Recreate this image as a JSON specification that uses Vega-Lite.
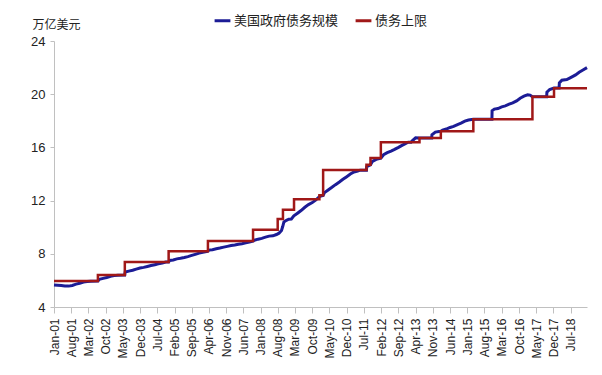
{
  "$schema": "https://vega.github.io/schema/vega-lite/v6.json",
  "width": 533,
  "height": 266,
  "autosize": {"type": "none"},
  "padding": {"left": 54, "top": 41, "right": 15, "bottom": 68},
  "background": "white",
  "config": {
    "view": {"stroke": null},
    "axis": {"labelFont": "Liberation Sans", "labelFontSize": 13, "labelColor": "#222", "domainColor": "#c0c0c0", "tickColor": "#c0c0c0", "grid": false}
  },
  "datasets": {
    "debt": [
      {"date": "2001-01-01", "value": 5.66, "series": "美国政府债务规模"},
      {"date": "2001-02-15", "value": 5.64, "series": "美国政府债务规模"},
      {"date": "2001-04-01", "value": 5.62, "series": "美国政府债务规模"},
      {"date": "2001-05-15", "value": 5.58, "series": "美国政府债务规模"},
      {"date": "2001-07-01", "value": 5.57, "series": "美国政府债务规模"},
      {"date": "2001-08-15", "value": 5.62, "series": "美国政府债务规模"},
      {"date": "2001-10-01", "value": 5.72, "series": "美国政府债务规模"},
      {"date": "2001-11-15", "value": 5.78, "series": "美国政府债务规模"},
      {"date": "2002-01-01", "value": 5.87, "series": "美国政府债务规模"},
      {"date": "2002-02-15", "value": 5.91, "series": "美国政府债务规模"},
      {"date": "2002-04-01", "value": 5.94, "series": "美国政府债务规模"},
      {"date": "2002-06-28", "value": 5.95, "series": "美国政府债务规模"},
      {"date": "2002-07-15", "value": 6.08, "series": "美国政府债务规模"},
      {"date": "2002-09-01", "value": 6.15, "series": "美国政府债务规模"},
      {"date": "2002-10-15", "value": 6.22, "series": "美国政府债务规模"},
      {"date": "2002-12-01", "value": 6.31, "series": "美国政府债务规模"},
      {"date": "2003-01-15", "value": 6.36, "series": "美国政府债务规模"},
      {"date": "2003-03-01", "value": 6.39, "series": "美国政府债务规模"},
      {"date": "2003-05-26", "value": 6.4, "series": "美国政府债务规模"},
      {"date": "2003-06-01", "value": 6.63, "series": "美国政府债务规模"},
      {"date": "2003-07-15", "value": 6.7, "series": "美国政府债务规模"},
      {"date": "2003-09-01", "value": 6.76, "series": "美国政府债务规模"},
      {"date": "2003-10-15", "value": 6.85, "series": "美国政府债务规模"},
      {"date": "2003-12-01", "value": 6.93, "series": "美国政府债务规模"},
      {"date": "2004-01-15", "value": 6.98, "series": "美国政府债务规模"},
      {"date": "2004-03-01", "value": 7.05, "series": "美国政府债务规模"},
      {"date": "2004-04-15", "value": 7.12, "series": "美国政府债务规模"},
      {"date": "2004-06-01", "value": 7.18, "series": "美国政府债务规模"},
      {"date": "2004-07-15", "value": 7.24, "series": "美国政府债务规模"},
      {"date": "2004-09-01", "value": 7.31, "series": "美国政府债务规模"},
      {"date": "2004-10-15", "value": 7.38, "series": "美国政府债务规模"},
      {"date": "2004-11-19", "value": 7.38, "series": "美国政府债务规模"},
      {"date": "2004-12-01", "value": 7.5, "series": "美国政府债务规模"},
      {"date": "2005-01-15", "value": 7.54, "series": "美国政府债务规模"},
      {"date": "2005-03-01", "value": 7.62, "series": "美国政府债务规模"},
      {"date": "2005-04-15", "value": 7.66, "series": "美国政府债务规模"},
      {"date": "2005-06-01", "value": 7.72, "series": "美国政府债务规模"},
      {"date": "2005-07-15", "value": 7.79, "series": "美国政府债务规模"},
      {"date": "2005-09-01", "value": 7.88, "series": "美国政府债务规模"},
      {"date": "2005-10-15", "value": 7.96, "series": "美国政府债务规模"},
      {"date": "2005-12-01", "value": 8.05, "series": "美国政府债务规模"},
      {"date": "2006-01-15", "value": 8.12, "series": "美国政府债务规模"},
      {"date": "2006-03-15", "value": 8.18, "series": "美国政府债务规模"},
      {"date": "2006-04-01", "value": 8.28, "series": "美国政府债务规模"},
      {"date": "2006-05-15", "value": 8.31, "series": "美国政府债务规模"},
      {"date": "2006-07-01", "value": 8.38, "series": "美国政府债务规模"},
      {"date": "2006-08-15", "value": 8.43, "series": "美国政府债务规模"},
      {"date": "2006-10-01", "value": 8.5, "series": "美国政府债务规模"},
      {"date": "2006-11-15", "value": 8.56, "series": "美国政府债务规模"},
      {"date": "2007-01-01", "value": 8.62, "series": "美国政府债务规模"},
      {"date": "2007-02-15", "value": 8.66, "series": "美国政府债务规模"},
      {"date": "2007-04-01", "value": 8.72, "series": "美国政府债务规模"},
      {"date": "2007-05-15", "value": 8.76, "series": "美国政府债务规模"},
      {"date": "2007-07-01", "value": 8.82, "series": "美国政府债务规模"},
      {"date": "2007-08-15", "value": 8.88, "series": "美国政府债务规模"},
      {"date": "2007-09-28", "value": 8.95, "series": "美国政府债务规模"},
      {"date": "2007-10-15", "value": 9.02, "series": "美国政府债务规模"},
      {"date": "2007-12-01", "value": 9.1, "series": "美国政府债务规模"},
      {"date": "2008-01-15", "value": 9.16, "series": "美国政府债务规模"},
      {"date": "2008-03-01", "value": 9.25, "series": "美国政府债务规模"},
      {"date": "2008-04-15", "value": 9.33, "series": "美国政府债务规模"},
      {"date": "2008-06-01", "value": 9.35, "series": "美国政府债务规模"},
      {"date": "2008-07-15", "value": 9.45, "series": "美国政府债务规模"},
      {"date": "2008-08-15", "value": 9.55, "series": "美国政府债务规模"},
      {"date": "2008-09-15", "value": 9.75, "series": "美国政府债务规模"},
      {"date": "2008-09-30", "value": 10.05, "series": "美国政府债务规模"},
      {"date": "2008-10-15", "value": 10.4, "series": "美国政府债务规模"},
      {"date": "2008-11-15", "value": 10.52, "series": "美国政府债务规模"},
      {"date": "2008-12-15", "value": 10.6, "series": "美国政府债务规模"},
      {"date": "2009-01-15", "value": 10.62, "series": "美国政府债务规模"},
      {"date": "2009-02-15", "value": 10.85, "series": "美国政府债务规模"},
      {"date": "2009-04-01", "value": 11.05, "series": "美国政府债务规模"},
      {"date": "2009-05-15", "value": 11.25, "series": "美国政府债务规模"},
      {"date": "2009-07-01", "value": 11.5, "series": "美国政府债务规模"},
      {"date": "2009-08-15", "value": 11.7, "series": "美国政府债务规模"},
      {"date": "2009-10-01", "value": 11.85, "series": "美国政府债务规模"},
      {"date": "2009-11-15", "value": 12.05, "series": "美国政府债务规模"},
      {"date": "2009-12-28", "value": 12.29, "series": "美国政府债务规模"},
      {"date": "2010-01-15", "value": 12.35, "series": "美国政府债务规模"},
      {"date": "2010-02-12", "value": 12.39, "series": "美国政府债务规模"},
      {"date": "2010-03-01", "value": 12.6, "series": "美国政府债务规模"},
      {"date": "2010-04-15", "value": 12.8, "series": "美国政府债务规模"},
      {"date": "2010-06-01", "value": 13.0, "series": "美国政府债务规模"},
      {"date": "2010-07-15", "value": 13.2, "series": "美国政府债务规模"},
      {"date": "2010-09-01", "value": 13.4, "series": "美国政府债务规模"},
      {"date": "2010-10-15", "value": 13.6, "series": "美国政府债务规模"},
      {"date": "2010-12-01", "value": 13.8, "series": "美国政府债务规模"},
      {"date": "2011-01-15", "value": 14.0, "series": "美国政府债务规模"},
      {"date": "2011-03-01", "value": 14.15, "series": "美国政府债务规模"},
      {"date": "2011-04-15", "value": 14.22, "series": "美国政府债务规模"},
      {"date": "2011-05-16", "value": 14.29, "series": "美国政府债务规模"},
      {"date": "2011-08-02", "value": 14.29, "series": "美国政府债务规模"},
      {"date": "2011-08-05", "value": 14.55, "series": "美国政府债务规模"},
      {"date": "2011-09-21", "value": 14.69, "series": "美国政府债务规模"},
      {"date": "2011-10-15", "value": 14.95, "series": "美国政府债务规模"},
      {"date": "2011-12-01", "value": 15.1, "series": "美国政府债务规模"},
      {"date": "2012-01-27", "value": 15.19, "series": "美国政府债务规模"},
      {"date": "2012-03-01", "value": 15.45, "series": "美国政府债务规模"},
      {"date": "2012-04-15", "value": 15.6, "series": "美国政府债务规模"},
      {"date": "2012-06-01", "value": 15.72, "series": "美国政府债务规模"},
      {"date": "2012-07-15", "value": 15.85, "series": "美国政府债务规模"},
      {"date": "2012-09-01", "value": 16.0, "series": "美国政府债务规模"},
      {"date": "2012-10-15", "value": 16.15, "series": "美国政府债务规模"},
      {"date": "2012-12-01", "value": 16.3, "series": "美国政府债务规模"},
      {"date": "2012-12-31", "value": 16.39, "series": "美国政府债务规模"},
      {"date": "2013-02-04", "value": 16.39, "series": "美国政府债务规模"},
      {"date": "2013-02-15", "value": 16.47, "series": "美国政府债务规模"},
      {"date": "2013-04-01", "value": 16.72, "series": "美国政府债务规模"},
      {"date": "2013-05-19", "value": 16.7, "series": "美国政府债务规模"},
      {"date": "2013-10-17", "value": 16.7, "series": "美国政府债务规模"},
      {"date": "2013-10-20", "value": 16.95, "series": "美国政府债务规模"},
      {"date": "2013-12-01", "value": 17.15, "series": "美国政府债务规模"},
      {"date": "2014-01-15", "value": 17.2, "series": "美国政府债务规模"},
      {"date": "2014-02-07", "value": 17.21, "series": "美国政府债务规模"},
      {"date": "2014-03-01", "value": 17.3, "series": "美国政府债务规模"},
      {"date": "2014-04-15", "value": 17.38, "series": "美国政府债务规模"},
      {"date": "2014-06-01", "value": 17.5, "series": "美国政府债务规模"},
      {"date": "2014-07-15", "value": 17.58, "series": "美国政府债务规模"},
      {"date": "2014-09-01", "value": 17.72, "series": "美国政府债务规模"},
      {"date": "2014-10-15", "value": 17.82, "series": "美国政府债务规模"},
      {"date": "2014-12-01", "value": 17.97, "series": "美国政府债务规模"},
      {"date": "2015-01-15", "value": 18.06, "series": "美国政府债务规模"},
      {"date": "2015-03-16", "value": 18.11, "series": "美国政府债务规模"},
      {"date": "2015-11-01", "value": 18.11, "series": "美国政府债务规模"},
      {"date": "2015-11-03", "value": 18.75, "series": "美国政府债务规模"},
      {"date": "2015-12-01", "value": 18.88, "series": "美国政府债务规模"},
      {"date": "2016-01-15", "value": 18.92, "series": "美国政府债务规模"},
      {"date": "2016-03-01", "value": 19.05, "series": "美国政府债务规模"},
      {"date": "2016-04-15", "value": 19.12, "series": "美国政府债务规模"},
      {"date": "2016-06-01", "value": 19.25, "series": "美国政府债务规模"},
      {"date": "2016-07-15", "value": 19.35, "series": "美国政府债务规模"},
      {"date": "2016-09-01", "value": 19.5, "series": "美国政府债务规模"},
      {"date": "2016-10-15", "value": 19.7, "series": "美国政府债务规模"},
      {"date": "2016-12-01", "value": 19.85, "series": "美国政府债务规模"},
      {"date": "2017-01-15", "value": 19.95, "series": "美国政府债务规模"},
      {"date": "2017-02-15", "value": 19.93, "series": "美国政府债务规模"},
      {"date": "2017-03-16", "value": 19.81, "series": "美国政府债务规模"},
      {"date": "2017-09-08", "value": 19.81, "series": "美国政府债务规模"},
      {"date": "2017-09-11", "value": 20.15, "series": "美国政府债务规模"},
      {"date": "2017-10-15", "value": 20.35, "series": "美国政府债务规模"},
      {"date": "2017-12-08", "value": 20.46, "series": "美国政府债务规模"},
      {"date": "2018-02-09", "value": 20.46, "series": "美国政府债务规模"},
      {"date": "2018-02-12", "value": 20.85, "series": "美国政府债务规模"},
      {"date": "2018-03-15", "value": 21.05, "series": "美国政府债务规模"},
      {"date": "2018-05-15", "value": 21.1, "series": "美国政府债务规模"},
      {"date": "2018-07-01", "value": 21.25, "series": "美国政府债务规模"},
      {"date": "2018-09-01", "value": 21.45, "series": "美国政府债务规模"},
      {"date": "2018-10-15", "value": 21.65, "series": "美国政府债务规模"},
      {"date": "2018-12-01", "value": 21.82, "series": "美国政府债务规模"},
      {"date": "2019-01-20", "value": 22.0, "series": "美国政府债务规模"}
    ],
    "ceiling": [
      {"date": "2001-01-01", "value": 5.95, "series": "债务上限"},
      {"date": "2002-06-28", "value": 6.4, "series": "债务上限"},
      {"date": "2003-05-27", "value": 7.384, "series": "债务上限"},
      {"date": "2004-11-19", "value": 8.184, "series": "债务上限"},
      {"date": "2006-03-20", "value": 8.965, "series": "债务上限"},
      {"date": "2007-09-29", "value": 9.815, "series": "债务上限"},
      {"date": "2008-07-30", "value": 10.615, "series": "债务上限"},
      {"date": "2008-10-03", "value": 11.315, "series": "债务上限"},
      {"date": "2009-02-17", "value": 12.104, "series": "债务上限"},
      {"date": "2009-12-28", "value": 12.394, "series": "债务上限"},
      {"date": "2010-02-12", "value": 14.294, "series": "债务上限"},
      {"date": "2011-08-02", "value": 14.694, "series": "债务上限"},
      {"date": "2011-09-21", "value": 15.194, "series": "债务上限"},
      {"date": "2012-01-27", "value": 16.394, "series": "债务上限"},
      {"date": "2013-05-19", "value": 16.699, "series": "债务上限"},
      {"date": "2014-02-07", "value": 17.212, "series": "债务上限"},
      {"date": "2015-03-16", "value": 18.113, "series": "债务上限"},
      {"date": "2017-03-16", "value": 19.809, "series": "债务上限"},
      {"date": "2017-12-08", "value": 20.456, "series": "债务上限"},
      {"date": "2019-01-20", "value": 20.456, "series": "债务上限"}
    ]
  },
  "encoding": {
    "x": {
      "field": "date", "type": "temporal",
      "scale": {"type": "utc", "domain": [{"year": 2001, "month": 1, "date": 1, "utc": true}, {"year": 2019, "month": 1, "date": 20, "utc": true}]},
      "axis": {
        "title": null, "format": "%b-%y", "labelAngle": -90, "labelAlign": "right", "labelBaseline": "middle",
        "labelFontSize": 12, "tickSize": 6, "labelPadding": 5, "labelOverlap": false, "labelFlush": false,
        "values": [
          {"year": 2001, "month": 1, "date": 1, "utc": true},
          {"year": 2001, "month": 8, "date": 1, "utc": true},
          {"year": 2002, "month": 3, "date": 1, "utc": true},
          {"year": 2002, "month": 10, "date": 1, "utc": true},
          {"year": 2003, "month": 5, "date": 1, "utc": true},
          {"year": 2003, "month": 12, "date": 1, "utc": true},
          {"year": 2004, "month": 7, "date": 1, "utc": true},
          {"year": 2005, "month": 2, "date": 1, "utc": true},
          {"year": 2005, "month": 9, "date": 1, "utc": true},
          {"year": 2006, "month": 4, "date": 1, "utc": true},
          {"year": 2006, "month": 11, "date": 1, "utc": true},
          {"year": 2007, "month": 6, "date": 1, "utc": true},
          {"year": 2008, "month": 1, "date": 1, "utc": true},
          {"year": 2008, "month": 8, "date": 1, "utc": true},
          {"year": 2009, "month": 3, "date": 1, "utc": true},
          {"year": 2009, "month": 10, "date": 1, "utc": true},
          {"year": 2010, "month": 5, "date": 1, "utc": true},
          {"year": 2010, "month": 12, "date": 1, "utc": true},
          {"year": 2011, "month": 7, "date": 1, "utc": true},
          {"year": 2012, "month": 2, "date": 1, "utc": true},
          {"year": 2012, "month": 9, "date": 1, "utc": true},
          {"year": 2013, "month": 4, "date": 1, "utc": true},
          {"year": 2013, "month": 11, "date": 1, "utc": true},
          {"year": 2014, "month": 6, "date": 1, "utc": true},
          {"year": 2015, "month": 1, "date": 1, "utc": true},
          {"year": 2015, "month": 8, "date": 1, "utc": true},
          {"year": 2016, "month": 3, "date": 1, "utc": true},
          {"year": 2016, "month": 10, "date": 1, "utc": true},
          {"year": 2017, "month": 5, "date": 1, "utc": true},
          {"year": 2017, "month": 12, "date": 1, "utc": true},
          {"year": 2018, "month": 7, "date": 1, "utc": true}
        ]
      }
    },
    "y": {
      "field": "value", "type": "quantitative",
      "scale": {"domain": [4, 24], "nice": false, "zero": false},
      "axis": {
        "values": [4, 8, 12, 16, 20, 24], "tickSize": 4, "labelPadding": 5,
        "title": "万亿美元", "titleAngle": 0, "titleAlign": "left", "titleBaseline": "alphabetic",
        "titleX": -22, "titleY": -13, "titleFont": "Noto Sans CJK SC", "titleFontSize": 12, "titleFontWeight": "normal", "titleColor": "#222"
      }
    },
    "color": {
      "field": "series", "type": "nominal",
      "scale": {"domain": ["美国政府债务规模", "债务上限"], "range": ["#1c1c96", "#a01818"]},
      "legend": {
        "title": null, "orient": "none", "legendX": 159, "legendY": -30, "direction": "horizontal",
        "symbolType": "stroke", "symbolSize": 250, "symbolStrokeWidth": 3,
        "labelFont": "Noto Sans CJK SC", "labelFontSize": 13, "labelColor": "#222", "labelOffset": 2, "columnPadding": 10
      }
    }
  },
  "layer": [
    {"data": {"name": "debt"}, "mark": {"type": "line", "strokeWidth": 3, "interpolate": "linear"}},
    {"data": {"name": "ceiling"}, "mark": {"type": "line", "strokeWidth": 2.5, "interpolate": "step-after"}}
  ]
}
